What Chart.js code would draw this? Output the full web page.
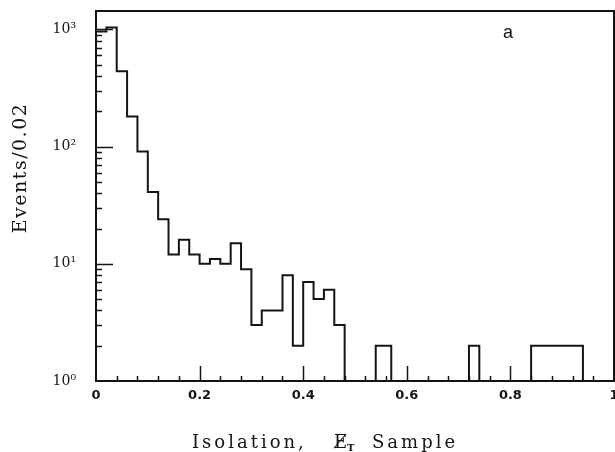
<!DOCTYPE html>
<html>
<head>
<meta charset="utf-8">
<script src="https://cdn.jsdelivr.net/npm/chart.js@4.4.0/dist/chart.umd.min.js"></script>
<style>
  html, body { margin: 0; padding: 0; background: #fff; }
</style>
</head>
<body>
<canvas id="chart" width="615" height="452"></canvas>
<script>
// bin edges along "isolation"; bins with no events are kept as zero counts
const binEdges = [
  0, 0.02, 0.04, 0.06, 0.08, 0.10, 0.12, 0.14, 0.16, 0.18, 0.20, 0.22, 0.24,
  0.26, 0.28, 0.30, 0.32, 0.34, 0.36, 0.38, 0.40, 0.42, 0.44, 0.46, 0.48,
  0.54, 0.57, 0.72, 0.74, 0.84, 0.94,
];
const binCounts = [
  960, 1040, 440, 181, 91, 41, 24, 12, 16, 12, 10, 11, 10, 15, 9, 3, 4, 4,
  8, 2, 7, 5, 6, 3,
  0, 2, 0, 2, 0, 2,
];
const xTicks = [0, 0.2, 0.4, 0.6, 0.8, 1];
const xTickLabels = ["0", "0.2", "0.4", "0.6", "0.8", "1"];
const yTicks = [1, 10, 100, 1000];
const yTickLabels = ["10\u2070", "10\u00b9", "10\u00b2", "10\u00b3"];
const yMin = 1;
const yMax = 1435;

const ink = "#141414";

// histogram outline: stepped line, each segment ends at the bin's right edge
const points = [{ x: binEdges[0], y: yMin }];
binCounts.forEach((c, i) => points.push({ x: binEdges[i + 1], y: Math.max(c, yMin) }));
points.push({ x: binEdges[binEdges.length - 1], y: yMin });

const framePlugin = {
  id: "frame",
  afterDraw(chart) {
    const { ctx, chartArea: a, scales } = chart;
    const x = scales.x, y = scales.y;
    ctx.save();
    ctx.strokeStyle = ink;
    ctx.lineWidth = 1.5;
    ctx.beginPath();
    // minor ticks every 0.04, major every 0.2 (inside)
    for (let i = 1; i < 25; i++) {
      const px = Math.round(x.getPixelForValue(i * 0.04)) + 0.5;
      const len = i % 5 === 0 ? 15 : 5;
      ctx.moveTo(px, a.bottom);
      ctx.lineTo(px, a.bottom - len);
    }
    for (let d = 0; d < 4; d++) {
      for (let m = 1; m <= 9; m++) {
        const v = m * Math.pow(10, d);
        if (v > yMax || (d === 0 && m === 1)) continue;
        const py = Math.round(y.getPixelForValue(v)) + 0.5;
        const len = m === 1 ? 17 : 6;
        ctx.moveTo(a.left, py);
        ctx.lineTo(a.left + len, py);
      }
    }
    ctx.stroke();
    ctx.lineWidth = 2;
    ctx.strokeRect(a.left, a.top, a.right - a.left, a.bottom - a.top);

    ctx.fillStyle = ink;
    // panel letter
    ctx.font = "18px 'Liberation Sans'";
    ctx.textAlign = "center";
    ctx.textBaseline = "middle";
    ctx.fillText("a", 508, 33);

    // y title
    ctx.save();
    ctx.translate(21, 168);
    ctx.rotate(-Math.PI / 2);
    ctx.font = "19px 'DejaVu Serif'";
    ctx.letterSpacing = "1.5px";
    ctx.fillText("Events/0.02", 0, 0);
    ctx.restore();

    // x title
    ctx.textAlign = "left";
    ctx.textBaseline = "alphabetic";
    ctx.font = "18px 'DejaVu Serif'";
    ctx.letterSpacing = "3px";
    ctx.fillText("Isolation,", 192, 448);
    ctx.fillText("E\u0338", 334, 448);
    ctx.fillText("Sample", 372, 448);
    ctx.font = "bold 10px 'DejaVu Serif'";
    ctx.letterSpacing = "0px";
    ctx.fillText("T", 347, 451);
    ctx.restore();
  },
};

new Chart(document.getElementById("chart"), {
  type: "scatter",
  data: {
    datasets: [
      {
        data: points,
        showLine: true,
        stepped: "after",
        borderColor: ink,
        borderWidth: 2,
        pointRadius: 0,
        fill: false,
        clip: false,
      },
    ],
  },
  options: {
    responsive: false,
    animation: false,
    devicePixelRatio: 1,
    layout: { padding: { top: 11, right: 1, left: 0, bottom: 0 } },
    plugins: { legend: { display: false }, tooltip: { enabled: false } },
    scales: {
      x: {
        type: "linear",
        min: 0,
        max: 1,
        afterFit: (s) => {
          s.height = 71;
          s.paddingLeft = 0;
          s.paddingRight = 0;
        },
        afterBuildTicks: (s) => { s.ticks = xTicks.map((v) => ({ value: v })); },
        grid: { display: false, drawTicks: false },
        border: { display: false },
        ticks: {
          padding: 7,
          color: ink,
          maxRotation: 0,
          font: { family: "'DejaVu Sans'", size: 13, weight: "bold" },
          callback: (v, i) => xTickLabels[i],
        },
      },
      y: {
        type: "logarithmic",
        min: yMin,
        max: yMax,
        afterFit: (s) => {
          s.width = 96;
          s.paddingTop = 0;
          s.paddingBottom = 0;
        },
        afterBuildTicks: (s) => { s.ticks = yTicks.map((v) => ({ value: v })); },
        grid: { display: false, drawTicks: false },
        border: { display: false },
        ticks: {
          padding: 20,
          color: ink,
          font: { family: "'DejaVu Serif'", size: 14 },
          callback: (v, i) => yTickLabels[i],
        },
      },
    },
  },
  plugins: [framePlugin],
});
</script>
</body>
</html>
